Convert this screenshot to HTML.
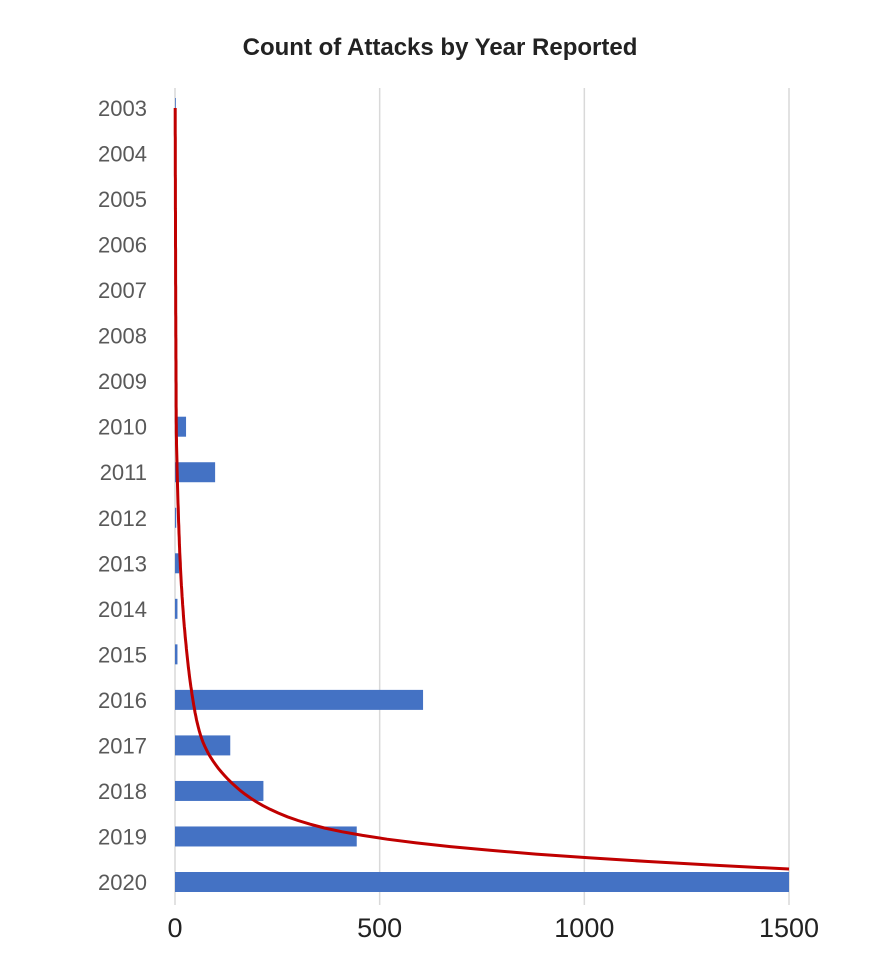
<!DOCTYPE html>
<html><head><meta charset="utf-8"><style>
body{margin:0;background:#fff;}
svg{display:block;font-family:"Liberation Sans",sans-serif;}
</style></head><body>
<svg id="chart" width="878" height="964">
<text x="440" y="55" text-anchor="middle" font-size="24" font-weight="bold" fill="#222">Count of Attacks by Year Reported</text>
<g id="grid"></g><g id="bars"></g><g id="labels"></g><g id="ticks"></g>
<path id="trend" fill="none" stroke="#c00000" stroke-width="3"/>
</svg>
<script>
const years=["2003","2004","2005","2006","2007","2008","2009","2010","2011","2012","2013","2014","2015","2016","2017","2018","2019","2020"];
const counts=[2,0,0,0,0,0,0,27,98,3,10,6,6,606,135,216,444,1500];
const trendVals=[0.5,0.7,1,1.3,1.6,2,2.5,3,5,8,12,18,27,40,62,130,330,1500];
const xTicks=[0,500,1000,1500];
const NS="http://www.w3.org/2000/svg";
const x0=175,sc=(789-175)/1500;
const X=v=>x0+v*sc;
const Y=i=>108+i*(882-108)/17;
const TY=i=>108+i*(869-108)/17;
const g=document.getElementById('grid'),b=document.getElementById('bars'),l=document.getElementById('labels'),t=document.getElementById('ticks');
xTicks.forEach(v=>{
 const ln=document.createElementNS(NS,'line');
 ln.setAttribute('x1',X(v));ln.setAttribute('x2',X(v));ln.setAttribute('y1',88);ln.setAttribute('y2',905);
 ln.setAttribute('stroke','#d9d9d9');ln.setAttribute('stroke-width','1.5');
 
 
 g.appendChild(ln);
 const tx=document.createElementNS(NS,'text');
 tx.setAttribute('x',X(v));tx.setAttribute('y',937);tx.setAttribute('text-anchor','middle');
 tx.setAttribute('font-size','27');tx.setAttribute('fill','#222');tx.textContent=v;
 
 
 t.appendChild(tx);
});
years.forEach((yr,i)=>{
 const r=document.createElementNS(NS,'rect');
 r.setAttribute('x',X(0));r.setAttribute('y',Y(i)-10);r.setAttribute('width',Math.max(0,counts[i]*sc));r.setAttribute('height',20);
 r.setAttribute('fill','#4472c4');
 
 
 b.appendChild(r);
 const tx=document.createElementNS(NS,'text');
 tx.setAttribute('x',147);tx.setAttribute('y',Y(i)+8);tx.setAttribute('text-anchor','end');
 tx.setAttribute('font-size','22');tx.setAttribute('fill','#595959');tx.textContent=yr;
 
 
 l.appendChild(tx);
});
// smooth trend: monotone cubic interpolation of log(value) vs index
const L=trendVals.map(v=>Math.log(v));
const n=L.length;
const dl=[];for(let i=0;i<n-1;i++)dl.push(L[i+1]-L[i]);
const m=[];for(let i=0;i<n;i++){
 if(i===0)m.push(dl[0]);else if(i===n-1)m.push(dl[n-2]);
 else m.push(dl[i-1]*dl[i]<=0?0:2/(1/dl[i-1]+1/dl[i]));
}
let d='';
for(let i=0;i<n-1;i++){
 for(let k=0;k<=12;k++){
  if(i>0&&k===0)continue;
  const s=k/12,h00=2*s*s*s-3*s*s+1,h10=s*s*s-2*s*s+s,h01=-2*s*s*s+3*s*s,h11=s*s*s-s*s;
  const lv=h00*L[i]+h10*m[i]+h01*L[i+1]+h11*m[i+1];
  const px=X(Math.exp(lv)),py=TY(i+s);
  d+=(d?'L':'M')+px.toFixed(1)+','+py.toFixed(1);
 }
}
document.getElementById('trend').setAttribute('d',d);
</script>
</body></html>
